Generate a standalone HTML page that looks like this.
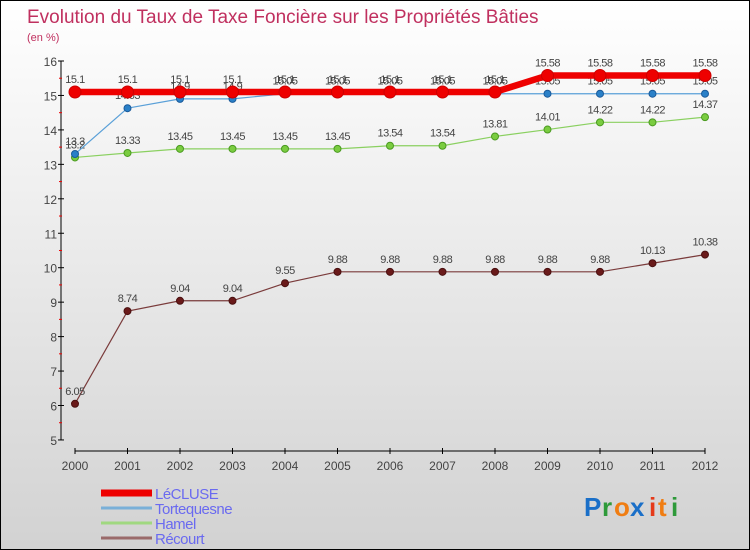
<!DOCTYPE html>
<html><head><meta charset="utf-8"><style>
body{margin:0}
#wrap{position:relative;width:748px;height:548px;border:1px solid #000;background:linear-gradient(#ffffff,#d2d2d2);font-family:"Liberation Sans",sans-serif;overflow:hidden}
svg{position:absolute;left:0;top:0}
</style></head><body>
<div id="wrap">
<svg id="c" width="748" height="548">
<text x="26" y="22" font-size="19" fill="#c0305f">Evolution du Taux de Taxe Foncière sur les Propriétés Bâties</text>
<text x="26" y="40" font-size="11" fill="#c0305f">(en %)</text>
<g id="axes"></g><g id="series"></g><g id="legend"></g>
<g font-size="26" font-weight="bold">
<text x="583" y="515" fill="#1a6fc8">P</text><text x="601" y="515" fill="#2e9a3a">r</text><text x="613" y="515" fill="#f07d12">o</text><text x="629" y="515" fill="#1a6fc8">x</text><text x="648" y="515" fill="#e53a1a">i</text><text x="657" y="515" fill="#f07d12">t</text><text x="670" y="515" fill="#2e9a3a">i</text>
</g>
</svg></div>
<script>
const years=[2000,2001,2002,2003,2004,2005,2006,2007,2008,2009,2010,2011,2012];
const yTicks=[5,6,7,8,9,10,11,12,13,14,15,16];
const lecluse=[15.1,15.1,15.1,15.1,15.1,15.1,15.1,15.1,15.1,15.58,15.58,15.58,15.58];
const tortequesne=[13.3,14.63,14.9,14.9,15.05,15.05,15.05,15.05,15.05,15.05,15.05,15.05,15.05];
const hamel=[13.2,13.33,13.45,13.45,13.45,13.45,13.54,13.54,13.81,14.01,14.22,14.22,14.37];
const recourt=[6.05,8.74,9.04,9.04,9.55,9.88,9.88,9.88,9.88,9.88,9.88,10.13,10.38];
const NS="http://www.w3.org/2000/svg";
function X(i){return 74+i*52.5}
function Y(v){return 60+(16-v)*34.45}
function mk(t,a,p){const e=document.createElementNS(NS,t);for(const k in a)e.setAttribute(k,a[k]);p.appendChild(e);return e}
const ax=document.getElementById('axes');
let yl=mk('line',{x1:60,y1:Y(16),x2:60,y2:Y(5),stroke:'#000'},ax);


yTicks.forEach(v=>{
 mk('line',{x1:57,y1:Y(v),x2:63,y2:Y(v),stroke:'#000'},ax);
 if(v<16)mk('line',{x1:58,y1:Y(v+0.5),x2:61,y2:Y(v+0.5),stroke:'#e00'},ax);
 const t=mk('text',{x:56,y:Y(v)+5,'text-anchor':'end','font-size':12,fill:'#444'},ax);t.textContent=v;
 
 
});
let xl=mk('line',{x1:X(0),y1:450,x2:X(12),y2:450,stroke:'#000'},ax);


years.forEach((y,i)=>{
 mk('line',{x1:X(i),y1:447,x2:X(i),y2:453,stroke:'#000'},ax);
 const t=mk('text',{x:X(i),y:469,'text-anchor':'middle','font-size':12,fill:'#444'},ax);t.textContent=y;
 
 
});
const sg=document.getElementById('series');
function series(name,data,color,w,r,dot,stroke){
 const g=mk('g',{},sg);
 
 
 mk('polyline',{points:data.map((v,i)=>X(i)+','+Y(v)).join(' '),fill:'none',stroke:color,'stroke-width':w},g);
 data.forEach((v,i)=>{
  const c=mk('circle',{cx:X(i),cy:Y(v),r:r,fill:dot,stroke:stroke,'stroke-width':1},g);
  
  
  const t=mk('text',{x:X(i),y:Y(v)-9,'text-anchor':'middle','font-size':11,fill:'#444','letter-spacing':'-0.5'},g);t.textContent=v;
 });
}
series('recourt',recourt,'#7a3b3b',1.2,3.5,'#6a1a1a','#4a1010');
series('hamel',hamel,'#8ad060',1.2,3.5,'#7acc40','#4a9a20');
series('tortequesne',tortequesne,'#5aa0d8',1.2,3.5,'#2a80c8','#1a5a9a');
series('lecluse',lecluse,'#ee0000',6.5,6,'#ee0000','#cc0000');
const lg=document.getElementById('legend');
const leg=[['LéCLUSE','#ee0000',7],['Tortequesne','#7ab0d8',3],['Hamel','#a0d880',3],['Récourt','#9a6a6a',3]];
leg.forEach((l,i)=>{
 const y=492+i*15;
 const g=mk('g',{},lg);
 
 
 mk('line',{x1:100,y1:y,x2:151,y2:y,stroke:l[1],'stroke-width':l[2]},g);
 const t=mk('text',{x:154,y:y+6,'font-size':15,fill:'#6a6af0','letter-spacing':'-0.5'},g);t.textContent=l[0];
});
</script>
</body></html>
